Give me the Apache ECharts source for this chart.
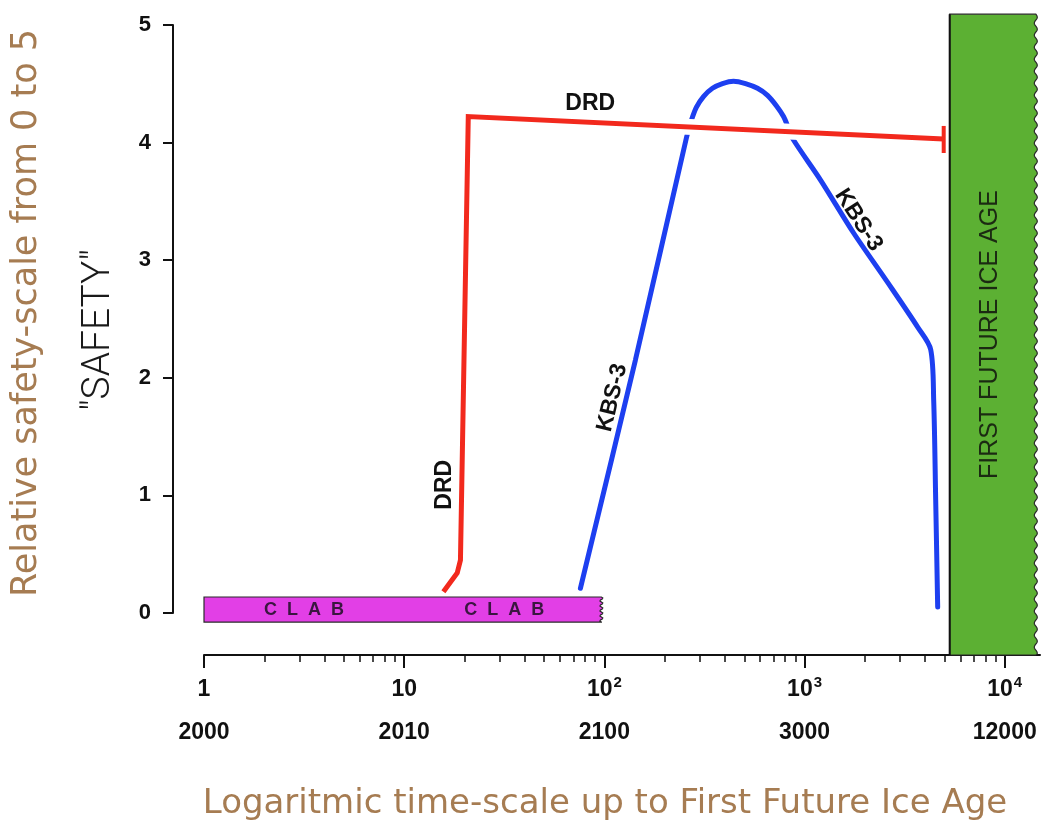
<!DOCTYPE html>
<html><head><meta charset="utf-8">
<script src="https://cdn.jsdelivr.net/npm/echarts@6/dist/echarts.min.js"></script>
<style>html,body{margin:0;padding:0;background:#fff}#c{width:1045px;height:826px}</style>
</head><body><div id="c"></div>
<script>
// ---------- data ----------
const decadeTicks = [1, 10, 100, 1000, 10000];
const decadeMantissa = ['1', '10', '10', '10', '10'];
const decadeExponent = ['', '', '2', '3', '4'];
const yearLabels = ['2000', '2010', '2100', '3000', '12000'];
const minorTicks = [2, 3, 4, 5, 6, 7, 8, 9,
  20, 30, 40, 50, 60, 70, 80, 90,
  200, 300, 400, 500, 600, 700, 800, 900,
  2000, 3000, 4000, 5000, 6000, 7000, 8000, 9000];
const xMin = 1, xMax = 15000;
const safetyMin = 0, safetyMax = 5;

// DRD (red)
const drdX = [15.7, 18.4, 19.1, 20.9, 4955];
const drdY = [0.18, 0.34, 0.45, 4.22, 4.03];
const drdCapY = [3.91, 4.14];

// KBS-3 (blue)
const kbsX = [75.9, 142.9, 257, 272.3, 288.4, 312.6, 346.7, 389.0, 441.6, 507.0, 582.1, 653.1, 724.4, 785.2, 831.8, 881,
  1202, 1758, 2600, 3673, 4266, 4416, 4519, 4624];
const kbsY = [0.21, 2.15, 4.04, 4.19, 4.30, 4.39, 4.46, 4.50, 4.52, 4.50, 4.46, 4.40, 4.31, 4.22, 4.12, 4.02,
  3.68, 3.23, 2.81, 2.43, 2.24, 1.81, 0.96, 0.05];

// CLAB band and ice-age block
const clabSpan = [1, 96.6];
const clabLevel = [-0.077, 0.136];
const iceSpan = [5309, 14290];
const iceLevel = [-0.357, 5.09];

// ---------- annotations (text placed in data coordinates) ----------
const notes = [
  { x: 85, y: 4.33, text: 'DRD', rot: 0, size: 23 },
  { x: 15.85, y: 1.09, text: 'DRD', rot: 90, size: 23 },
  { x: 109.6, y: 1.83, text: 'KBS-3', rot: 76.7, size: 23 },
  { x: 1862, y: 3.34, text: 'KBS-3', rot: -57, size: 23 },
  { x: 3.16, y: 0.028, text: 'C  L  A  B', rot: 0, size: 18, color: '#3a1640' },
  { x: 31.6, y: 0.028, text: 'C  L  A  B', rot: 0, size: 18, color: '#3a1640' }
];

const chart = echarts.init(document.getElementById('c'));

function tornBox(fill, period, amp, opts) {
  return function (params, api) {
    const a = api.coord([api.value(0), api.value(3)]);
    const b = api.coord([api.value(1), api.value(2)]);
    const pts = [[a[0], a[1]]];
    for (let yy = a[1]; yy <= b[1]; yy += 1) {
      pts.push([b[0] + amp * Math.sin(2 * Math.PI * (yy - a[1]) / period), yy]);
    }
    pts.push([b[0], b[1]]);
    pts.push([a[0], b[1]]);
    const children = [{
      type: 'polygon',
      shape: { points: pts },
      style: { fill: fill, stroke: '#2a2a2a', lineWidth: 1.2 }
    }];
    if (opts && opts.leftLine) {
      children.push({ type: 'line', shape: { x1: a[0], y1: a[1], x2: a[0], y2: b[1] },
        style: { stroke: '#111', lineWidth: 2 } });
    }
    if (opts && opts.text) {
      children.push({ type: 'text', x: (a[0] + b[0]) / 2 - 3, y: (a[1] + b[1]) / 2, rotation: Math.PI / 2,
        style: { text: opts.text, align: 'center', verticalAlign: 'middle',
          fontFamily: 'Liberation Sans', fontSize: 25, fill: '#1b2a12' } });
    }
    return { type: 'group', children: children };
  };
}

function xLabelFmt(value) {
  const i = decadeTicks.findIndex(v => Math.abs(v - value) / v < 1e-6);
  if (i < 0) return '';
  let s = '{n|' + decadeMantissa[i] + '}';
  if (decadeExponent[i]) s += '{s|' + decadeExponent[i] + '}';
  return s + '\n{y|' + yearLabels[i] + '}';
}

const option = {
  animation: false,
  backgroundColor: '#fff',
  grid: [
    { left: 204, top: 13, width: 836, height: 642, outerBoundsMode: 'none', containLabel: false },
    { left: 173, top: 25, width: 10, height: 588, outerBoundsMode: 'none', containLabel: false }
  ],
  xAxis: [
    {
      type: 'log', logBase: 10, gridIndex: 0, min: xMin, max: xMax,
      axisLine: { show: true, onZero: false, lineStyle: { color: '#111', width: 2 } },
      axisTick: { show: true, customValues: decadeTicks, length: 13, lineStyle: { color: '#111', width: 2 } },
      axisLabel: {
        customValues: decadeTicks, formatter: xLabelFmt, margin: 20, color: '#111',
        rich: {
          n: { fontFamily: 'Liberation Sans', fontSize: 23, fontWeight: 'bold', color: '#111', lineHeight: 30 },
          s: { fontFamily: 'Liberation Sans', fontSize: 15, fontWeight: 'bold', color: '#111', lineHeight: 30, verticalAlign: 'top', padding: [0, 0, 10, 1] },
          y: { fontFamily: 'Liberation Sans', fontSize: 23, fontWeight: 'bold', color: '#111', lineHeight: 56 }
        }
      },
      splitLine: { show: false },
      name: 'Logaritmic time-scale up to First Future Ice Age',
      nameLocation: 'middle', nameGap: 132,
      nameTextStyle: { fontFamily: 'DejaVu Sans', fontSize: 34, color: '#a67c52', padding: [0, 34, 0, 0] }
    },
    {
      type: 'log', logBase: 10, gridIndex: 0, min: xMin, max: xMax, position: 'bottom',
      axisLine: { show: false, onZero: false },
      axisTick: { show: true, customValues: minorTicks, length: 7, lineStyle: { color: '#111', width: 1.5 } },
      axisLabel: { show: false },
      splitLine: { show: false }
    },
    { type: 'value', gridIndex: 1, show: false, min: 0, max: 1 }
  ],
  yAxis: [
    { type: 'value', gridIndex: 0, min: -0.357, max: 5.1, show: false },
    {
      type: 'value', gridIndex: 1, min: safetyMin, max: safetyMax, interval: 1, position: 'left',
      axisLine: { show: true, lineStyle: { color: '#111', width: 2 } },
      axisTick: { show: true, length: 10, lineStyle: { color: '#111', width: 2 } },
      axisLabel: { margin: 22, fontFamily: 'Liberation Sans', fontSize: 22, fontWeight: 'bold', color: '#111' },
      splitLine: { show: false },
      name: 'Relative safety-scale from 0 to 5',
      nameLocation: 'middle', nameGap: 129, nameRotate: 90,
      nameTextStyle: { fontFamily: 'DejaVu Sans', fontSize: 35, color: '#a67c52', padding: [0, 0, 0, 12] }
    }
  ],
  graphic: [
    { type: 'text', x: 99, y: 330, rotation: Math.PI / 2,
      style: { text: '"SAFETY"', align: 'center', verticalAlign: 'middle',
        fontFamily: 'Roboto', fontWeight: 300, fontSize: 39, fill: '#1a1a1a' } }
  ],
  series: [
    {
      name: 'Ice age', type: 'custom', xAxisIndex: 0, yAxisIndex: 0, z: 1,
      renderItem: tornBox('#5cb033', 12, 1.5, { leftLine: true, text: 'FIRST FUTURE ICE AGE' }),
      encode: { x: [0, 1], y: [2, 3] },
      data: [[iceSpan[0], iceSpan[1], iceLevel[0], iceLevel[1]]]
    },
    {
      name: 'KBS-3', type: 'line', xAxisIndex: 0, yAxisIndex: 0, z: 2,
      data: kbsX.map((x, i) => [x, kbsY[i]]),
      smooth: 0.3, showSymbol: false, symbol: 'none',
      lineStyle: { color: '#1d3ff0', width: 5, cap: 'round' }
    },
    {
      name: 'DRD gap', type: 'line', xAxisIndex: 0, yAxisIndex: 0, z: 3,
      data: drdX.map((x, i) => [x, drdY[i]]),
      showSymbol: false, symbol: 'none', silent: true,
      lineStyle: { color: '#ffffff', width: 16 }
    },
    {
      name: 'DRD', type: 'line', xAxisIndex: 0, yAxisIndex: 0, z: 4,
      data: drdX.map((x, i) => [x, drdY[i]]),
      showSymbol: false, symbol: 'none',
      lineStyle: { color: '#f2291d', width: 5, join: 'miter' }
    },
    {
      name: 'DRD end', type: 'line', xAxisIndex: 0, yAxisIndex: 0, z: 4,
      data: drdCapY.map(y => [drdX[drdX.length - 1], y]),
      showSymbol: false, symbol: 'none',
      lineStyle: { color: '#f2291d', width: 4 }
    },
    {
      name: 'CLAB', type: 'custom', xAxisIndex: 0, yAxisIndex: 0, z: 5,
      renderItem: tornBox('#e23fe6', 5, 1.5),
      encode: { x: [0, 1], y: [2, 3] },
      data: [[clabSpan[0], clabSpan[1], clabLevel[0], clabLevel[1]]]
    },
    {
      name: 'notes', type: 'custom', xAxisIndex: 0, yAxisIndex: 0, z: 6, silent: true,
      encode: { x: 0, y: 1 },
      data: notes.map((n, i) => [n.x, n.y, i]),
      renderItem: function (params, api) {
        const n = notes[api.value(2)];
        const p = api.coord([api.value(0), api.value(1)]);
        return { type: 'text', x: p[0], y: p[1], rotation: n.rot * Math.PI / 180,
          style: { text: n.text, align: 'center', verticalAlign: 'middle',
            fontFamily: 'Liberation Sans', fontWeight: n.weight || 'bold', fontSize: n.size, fill: n.color || '#111' } };
      }
    }
  ]
};
chart.setOption(option);
</script></body></html>
